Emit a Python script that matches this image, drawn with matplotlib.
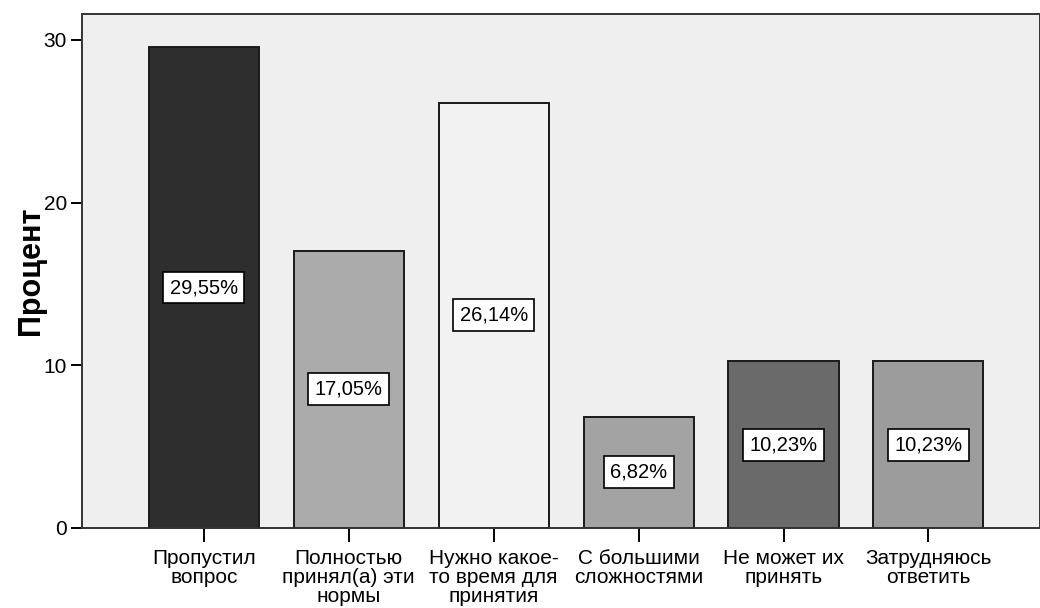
import matplotlib
matplotlib.use('Agg')
import matplotlib.pyplot as plt

plt.rcParams['font.family'] = ['Liberation Sans', 'DejaVu Sans']

categories = ['Пропустил\nвопрос', 'Полностью\nпринял(а) эти\nнормы',
              'Нужно какое-\nто время для\nпринятия', 'С большими\nсложностями',
              'Не может их\nпринять', 'Затрудняюсь\nответить']
values = [29.55, 17.05, 26.14, 6.82, 10.23, 10.23]
labels = ['29,55%', '17,05%', '26,14%', '6,82%', '10,23%', '10,23%']
colors = ['#2e2e2e', '#ababab', '#f2f2f2', '#a3a3a3', '#6a6a6a', '#9c9c9c']

fig = plt.figure(figsize=(10.4, 6.08), dpi=100)
ax = fig.add_axes([0.079, 0.132, 0.921, 0.845])
ax.set_facecolor('#efefef')

x = list(range(len(values)))
ax.bar(x, values, width=0.76, color=colors, edgecolor='#1a1a1a', linewidth=1.4)

for xi, v, lab in zip(x, values, labels):
    ax.text(xi, v / 2, lab, ha='center', va='center', fontsize=14.5,
            bbox=dict(boxstyle='square,pad=0.32', facecolor='white', edgecolor='black', linewidth=1.2))

ax.set_xlim(-0.84, 5.77)
ax.set_ylim(0, 31.6)
ax.set_yticks([0, 10, 20, 30])
ax.set_xticks(x)
ax.set_xticklabels(categories, fontsize=15, linespacing=1.0)
ax.tick_params(axis='y', labelsize=15, length=8, width=1.4, pad=3)
ax.tick_params(axis='x', length=10, width=1.4, pad=5)
ax.set_ylabel('Процент', fontsize=22, fontweight='bold', labelpad=-2)

for s in ax.spines.values():
    s.set_linewidth(1.4)
    s.set_color('#333333')

plt.savefig('out.png', dpi=100)
